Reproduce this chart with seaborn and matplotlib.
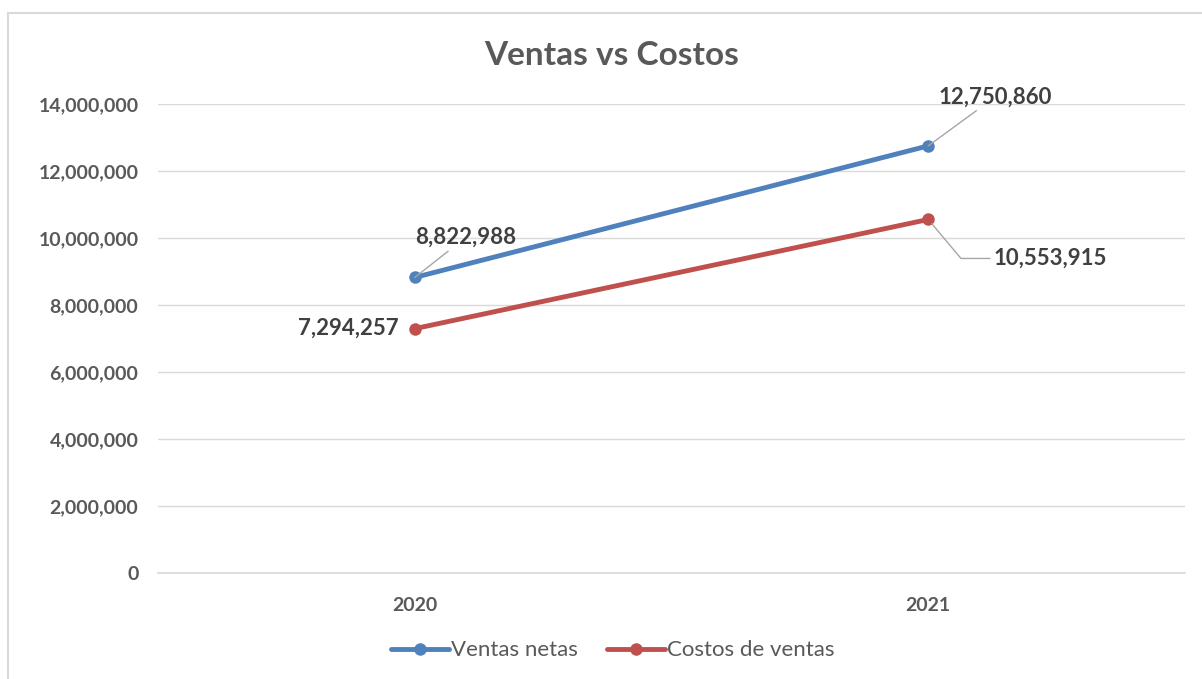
import numpy as np
import pandas as pd
import matplotlib.pyplot as plt
import matplotlib.ticker as mticker
from matplotlib.patches import Rectangle
import seaborn as sns

years = ["2020", "2021"]
ventas_netas = [8822988, 12750860]
costos_ventas = [7294257, 10553915]
series_names = ["Ventas netas", "Costos de ventas"]
colors = ["#4F81BD", "#C0504D"]

df = pd.DataFrame({
    "year": years * 2,
    "value": ventas_netas + costos_ventas,
    "serie": [series_names[0]] * 2 + [series_names[1]] * 2,
})

sns.set_theme(style="white")
plt.rcParams["font.family"] = ["Lato", "DejaVu Sans"]

fig = plt.figure(figsize=(12.02, 6.79), dpi=100)
ax = fig.add_axes([0.1314, 0.1561, 0.8545, 0.6907])

sns.lineplot(data=df, x="year", y="value", hue="serie", palette=colors,
             marker="o", markersize=9, markeredgewidth=0, linewidth=3.5,
             ax=ax, legend=True)

ax.set_xlim(-0.5, 1.5)
ax.set_ylim(0, 14000000)
ax.yaxis.set_major_locator(mticker.MultipleLocator(2000000))
ax.yaxis.set_major_formatter(mticker.FuncFormatter(lambda v, p: f"{int(v):,}"))
ax.grid(axis="y", color="#d9d9d9", linewidth=1)
ax.set_axisbelow(True)
for s in ["top", "right", "left"]:
    ax.spines[s].set_visible(False)
ax.spines["bottom"].set_color("#d9d9d9")
ax.tick_params(length=0, labelsize=14, labelcolor="#595959")
for lbl in ax.get_xticklabels() + ax.get_yticklabels():
    lbl.set_fontweight("bold")
ax.tick_params(axis="y", pad=14)
ax.tick_params(axis="x", pad=17)
ax.set_xlabel("")
ax.set_ylabel("")

fig.text(0.509, 0.918, "Ventas vs Costos", ha="center", va="center",
         fontsize=24, fontweight="bold", color="#595959")

lab_kw = dict(textcoords="offset pixels", fontsize=16, fontweight="bold",
              color="#404040", va="center")
line_kw = dict(arrowstyle="-", color="#a6a6a6", lw=1, shrinkA=0, shrinkB=0)
ax.annotate(f"{ventas_netas[0]:,}", xy=(0, ventas_netas[0]), xytext=(51, 40),
            ha="center", arrowprops=line_kw, **lab_kw)
ax.annotate(f"{ventas_netas[1]:,}", xy=(1, ventas_netas[1]), xytext=(67, 49),
            ha="center", arrowprops=line_kw, **lab_kw)
ax.annotate(f"{costos_ventas[0]:,}", xy=(0, costos_ventas[0]), xytext=(-16, 0),
            ha="right", **lab_kw)
ax.annotate(f"{costos_ventas[1]:,}", xy=(1, costos_ventas[1]), xytext=(65, -39),
            ha="left",
            arrowprops=dict(arrowstyle="-", color="#a6a6a6", lw=1, shrinkA=0,
                            shrinkB=4, connectionstyle="angle,angleA=0,angleB=-50,rad=0"),
            **lab_kw)

handles, labels = ax.get_legend_handles_labels()
ax.legend(handles, labels, loc="center", bbox_to_anchor=(0.443, -0.165),
          ncol=2, frameon=False, fontsize=16, handlelength=2.6,
          columnspacing=1.3, handletextpad=0.1, labelcolor="#595959")

fig.patches.append(Rectangle((8 / 1202, -0.01), 1.0, 1 - 13 / 679 + 0.01,
                             transform=fig.transFigure, fill=False,
                             edgecolor="#d9d9d9", linewidth=1.5))

fig.savefig("out.png", dpi=100)
